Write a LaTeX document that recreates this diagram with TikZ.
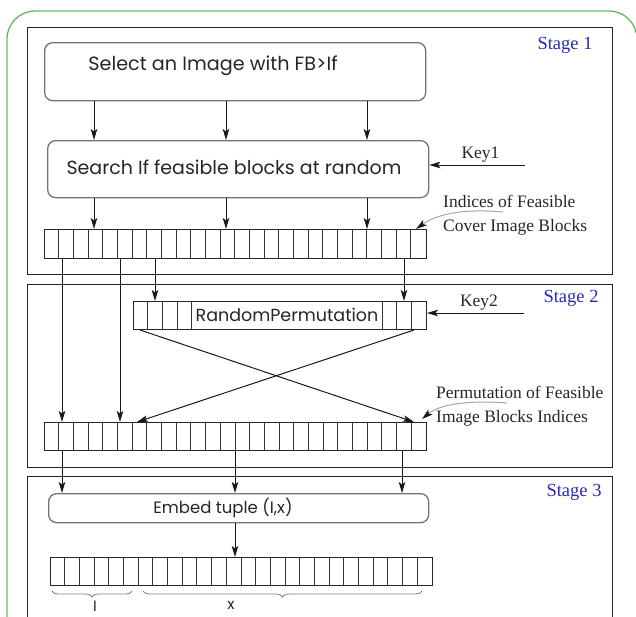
\documentclass[tikz,border=0pt]{standalone}
\usepackage{fontspec}
\setmainfont{Liberation Serif}
\newfontfamily\geofont{Poppins}
\usetikzlibrary{arrows.meta,calc,decorations.pathreplacing}
\definecolor{framegreen}{RGB}{95,190,95}
\definecolor{stageblue}{RGB}{40,40,185}
\begin{document}
\begin{tikzpicture}[x=1pt,y=-1pt,
  stagebox/.style={draw=black!85,line width=1.2pt,anchor=north west,inner sep=0pt},
  roundbox/.style={draw=black!55,line width=1.3pt,rounded corners=8pt,anchor=north west,inner sep=0pt},
  cellrow/.style={draw=black!85,line width=1pt,anchor=north west,inner sep=0pt},
  cellsep/.style={draw=black!80,line width=0.9pt},
  arr/.style={draw=black!90,line width=1pt,-{Stealth[length=11pt,width=6.5pt,inset=2.5pt]}},
  leader/.style={draw=black!35,line width=1pt,-{Stealth[length=11pt,width=6.5pt,inset=2.5pt,color=black!90]}},
  boxtext/.style={font=\geofont\fontsize{19}{21}\selectfont,text=black!85,inner sep=0pt},
  serif/.style={font=\fontsize{17.5}{24}\selectfont,inner sep=0pt,text=black!85,align=left},
  stagelabel/.style={font=\fontsize{18.5}{20}\selectfont,text=stageblue,inner sep=0pt},
  brace/.style={draw=black!50,line width=0.8pt,decorate,decoration={brace,mirror,amplitude=6pt}}
]
\useasboundingbox (0,0) rectangle (636,616);
\clip (0,0) rectangle (636,616);

% outer frame
\draw[framegreen,line width=1.3pt,rounded corners=28pt] (7,11) rectangle (637,660);

% ---------------- Stage 1 ----------------
\node[stagebox,minimum width=585pt,minimum height=247pt] (s1) at (27,27) {};
\node[stagelabel] (s1lbl) at (565,45) {Stage 1};

\node[roundbox,minimum width=381pt,minimum height=58pt] (select) at (44,42) {};
\node[boxtext,font=\geofont\fontsize{19.2}{21}\selectfont] (selecttxt) at (213,66) {Select an Image with FB>If};

\node[roundbox,minimum width=381pt,minimum height=57pt] (search) at (47,140) {};
\node[boxtext] (searchtxt) at (234,167) {Search If feasible blocks at random};

\foreach \xx in {94,226,367}
  \draw[arr] (\xx,0 |- select.south) -- (\xx,0 |- search.north);

\coordinate (k1) at (525,165);
\draw[arr] (k1) -- (k1 -| search.east);
\node[serif] (key1) at (480.5,155) {Key1};

\node[cellrow,minimum width=381.5pt,minimum height=29pt] (a1) at (44,229) {};
\foreach \i in {1,...,25}
  \draw[cellsep] ($(a1.north west)+(\i*14.673,0)$) -- ($(a1.south west)+(\i*14.673,0)$);

\foreach \xx in {94,226,367}
  \draw[arr] (\xx,0 |- search.south) -- (\xx,0 |- a1.north);

\node[serif,anchor=west] (lbl1) at (443,215) {Indices of Feasible\\Cover Image Blocks};
\draw[leader] (503,212) .. controls (470,209) and (440,212) .. (416,229);

% ---------------- Stage 2 ----------------
\node[stagebox,minimum width=585pt,minimum height=183pt] (s2) at (27,284) {};
\node[stagelabel] (s2lbl) at (571,298) {Stage 2};

\node[cellrow,minimum width=293pt,minimum height=28pt] (rp) at (133,301) {};
\foreach \o in {14.65,29.3,43.95,58.6,249.05,263.7,278.35}
  \draw[cellsep] ($(rp.north west)+(\o,0)$) -- ($(rp.south west)+(\o,0)$);
\node[boxtext,font=\geofont\fontsize{17.5}{20}\selectfont] (rptxt) at (287,315) {RandomPermutation};

\coordinate (k2) at (524,313);
\draw[arr] (k2) -- (k2 -| rp.east);
\node[serif] (key2) at (479,303) {Key2};

\node[cellrow,minimum width=382pt,minimum height=28pt] (a2) at (44,422) {};
\foreach \i in {1,...,25}
  \draw[cellsep] ($(a2.north west)+(\i*14.692,0)$) -- ($(a2.south west)+(\i*14.692,0)$);

\foreach \xx in {155,404}
  \draw[arr] (\xx,0 |- a1.south) -- (\xx,0 |- rp.north);
\foreach \xx in {62,120}
  \draw[arr] (\xx,0 |- a1.south) -- (\xx,0 |- a2.north);

\draw[arr] (140,0 |- rp.south) -- (414,0 |- a2.north);
\draw[arr] (414,0 |- rp.south) -- (137,0 |- a2.north);

\node[serif,anchor=west] (lbl2) at (436,406) {Permutation of Feasible\\Image Blocks Indices};
\draw[leader] (507,403) .. controls (470,400) and (440,404) .. (422,419);

% ---------------- Stage 3 ----------------
\node[stagebox,minimum width=585pt,minimum height=180pt] (s3) at (27,476) {};
\node[stagelabel] (s3lbl) at (574,492) {Stage 3};

\node[roundbox,minimum width=380pt,minimum height=29pt] (embed) at (48,493) {};
\node[boxtext,font=\geofont\fontsize{16.5}{19}\selectfont] (embedtxt) at (223,508) {Embed tuple (I,x)};

\foreach \xx in {62,235,402}
  \draw[arr] (\xx,0 |- a2.south) -- (\xx,0 |- embed.north);

\node[cellrow,minimum width=382pt,minimum height=28pt] (a3) at (50,557) {};
\foreach \i in {1,...,25}
  \draw[cellsep] ($(a3.north west)+(\i*14.692,0)$) -- ($(a3.south west)+(\i*14.692,0)$);

\draw[arr] (235,0 |- embed.south) -- (235,0 |- a3.north);

\coordinate (bi1) at (52,591);
\coordinate (bi2) at (132,591);
\coordinate (bx1) at (143,591);
\coordinate (bx2) at (422,591);
\draw[brace] (bi1) -- (bi2);
\draw[brace] (bx1) -- (bx2);
\node[boxtext,anchor=north,font=\geofont\fontsize{15}{17}\selectfont] (ilbl) at (95,601) {I};
\node[boxtext,anchor=north,font=\geofont\fontsize{15}{17}\selectfont] (xlbl) at (231,601) {x};
\end{tikzpicture}
\end{document}
